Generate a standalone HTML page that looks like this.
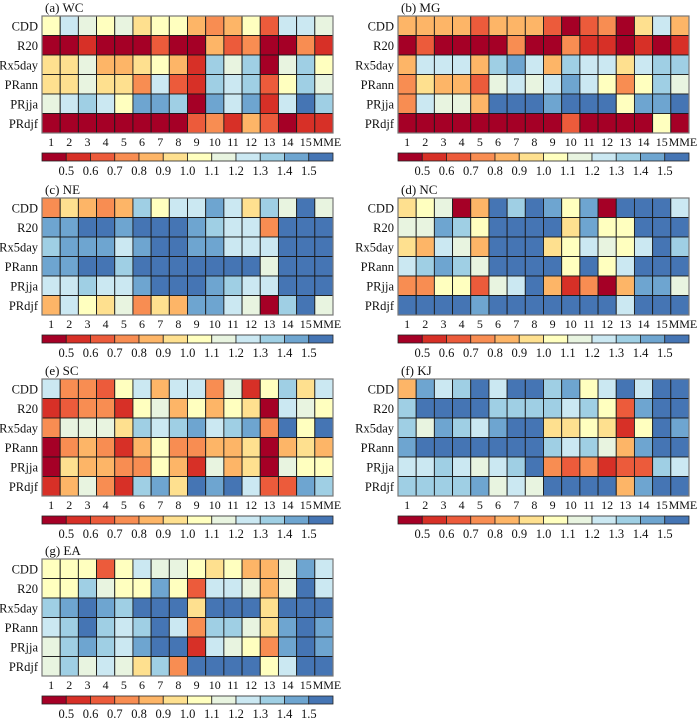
<!DOCTYPE html>
<html><head><meta charset="utf-8"><style>
html,body{margin:0;padding:0;background:#fff;}
svg{display:block;}
.t{font-family:"Liberation Serif","DejaVu Serif","Times New Roman",serif;fill:#111;}
</style></head><body>
<svg id="fig" width="700" height="720" viewBox="0 0 700 720"></svg>
<script>
const modelLabels=["1","2","3","4","5","6","7","8","9","10","11","12","13","14","15","MME"];
const indexLabels=["CDD","R20","Rx5day","PRann","PRjja","PRdjf"];
const colorbarTicks=["0.5","0.6","0.7","0.8","0.9","1.0","1.1","1.2","1.3","1.4","1.5"];
const panelTitles=["(a) WC","(b) MG","(c) NE","(d) NC","(e) SC","(f) KJ","(g) EA"];
const dataWC=[
[1.05,1.25,1.15,1.05,1.15,0.95,1.05,1.05,0.85,0.75,0.85,1.05,0.65,1.25,1.25,1.15],
[0.4,0.4,0.55,0.4,0.4,0.4,0.65,0.4,0.4,0.85,0.65,0.75,0.4,0.4,0.75,0.55],
[0.95,0.95,1.15,0.85,0.85,0.95,1.05,0.85,0.55,1.35,1.15,1.35,0.4,1.15,1.35,1.05],
[0.95,0.95,1.15,0.95,0.95,0.75,1.25,0.65,0.55,1.35,1.25,1.35,0.65,1.05,1.35,1.15],
[1.15,1.25,1.35,1.25,1.05,1.45,1.45,1.35,0.4,1.45,1.25,1.45,0.55,1.25,1.6,1.35],
[0.4,0.4,0.4,0.4,0.4,0.4,0.4,0.4,0.65,0.75,0.55,0.85,0.65,0.4,0.55,0.55]];
const dataMG=[
[0.85,0.85,0.85,0.85,0.65,0.85,0.85,0.85,0.65,0.4,0.65,0.75,0.4,0.95,1.25,0.85],
[0.4,0.65,0.4,0.4,0.4,0.4,0.75,0.4,0.4,0.75,0.55,0.55,0.4,0.55,0.4,0.55],
[0.85,1.25,1.25,1.25,0.85,1.35,1.45,1.25,0.85,1.35,1.25,1.25,0.95,1.25,1.35,1.35],
[0.75,0.95,0.85,0.85,0.65,1.15,1.25,1.15,1.25,1.45,1.25,1.05,0.75,1.05,1.35,1.15],
[0.75,1.25,1.15,1.15,0.85,1.6,1.6,1.6,1.45,1.6,1.6,1.6,1.05,1.45,1.45,1.6],
[0.4,0.4,0.4,0.4,0.4,0.4,0.4,0.4,0.4,0.65,0.4,0.4,0.4,0.4,1.05,0.4]];
const dataNE=[
[0.75,0.95,0.85,0.75,0.85,1.35,1.05,1.25,1.25,1.45,1.25,0.95,1.35,1.15,1.6,1.15],
[1.45,1.45,1.6,1.6,1.45,1.6,1.6,1.6,1.45,1.35,1.25,1.25,0.75,1.6,1.6,1.6],
[1.35,1.45,1.45,1.45,1.25,1.45,1.6,1.6,1.45,1.45,1.25,1.25,1.25,1.6,1.6,1.6],
[1.45,1.45,1.6,1.6,1.35,1.6,1.6,1.6,1.6,1.6,1.6,1.6,1.15,1.6,1.6,1.6],
[1.25,1.25,1.35,1.25,1.25,1.45,1.6,1.6,1.6,1.45,1.35,1.25,1.25,1.6,1.6,1.6],
[0.85,1.25,1.05,0.95,1.15,0.75,0.95,0.85,1.45,1.45,1.25,1.15,0.4,1.35,1.6,1.15]];
const dataNC=[
[0.95,1.05,1.15,0.4,0.85,1.6,1.35,1.6,1.45,1.05,1.45,0.4,1.6,1.6,1.6,1.25],
[1.15,1.15,1.45,1.35,1.05,1.6,1.6,1.6,1.6,0.95,1.45,1.05,1.05,1.6,1.6,1.6],
[0.95,0.85,1.25,1.15,0.85,1.6,1.6,1.6,0.95,1.05,1.25,1.15,1.05,1.25,1.6,1.35],
[1.25,1.35,1.45,1.35,1.15,1.6,1.6,1.6,1.6,1.05,1.6,1.05,1.25,1.6,1.6,1.6],
[0.75,0.75,1.05,1.05,0.65,1.15,1.25,1.6,0.85,0.55,0.75,0.4,0.85,1.45,1.45,1.15],
[1.6,1.6,1.6,1.6,1.45,1.6,1.6,1.6,1.6,1.6,1.6,1.6,1.25,1.6,1.6,1.6]];
const dataSC=[
[1.25,0.75,0.75,0.65,1.05,1.25,0.85,1.25,1.25,0.75,1.15,0.55,1.05,1.35,0.95,1.25],
[0.55,0.65,0.75,0.75,0.55,1.05,1.15,0.85,1.05,0.85,1.05,0.95,0.4,1.25,1.15,1.05],
[0.75,1.15,1.15,1.15,0.95,1.35,1.25,1.35,1.45,1.25,1.35,1.45,0.75,1.6,1.05,1.6],
[0.4,0.75,0.85,0.75,0.55,0.85,1.05,0.75,0.75,0.85,0.85,0.95,0.4,0.85,0.95,0.85],
[0.4,0.95,0.85,0.85,0.75,0.75,1.05,0.85,0.55,1.15,0.85,0.95,0.4,1.15,1.05,1.05],
[0.55,0.85,1.15,0.75,0.55,1.35,1.45,0.95,1.6,1.45,1.6,1.25,0.65,0.65,1.45,1.35]];
const dataKJ=[
[0.85,1.45,1.25,1.35,1.6,1.25,1.6,1.6,1.35,1.45,1.05,1.25,1.6,1.25,1.6,1.6],
[1.35,1.6,1.6,1.6,1.6,1.35,1.35,1.35,1.35,1.25,1.35,1.05,0.65,1.45,1.6,1.6],
[1.35,1.15,1.45,1.35,1.25,1.45,1.6,1.6,0.95,0.95,1.05,0.95,0.55,1.05,1.6,1.45],
[1.45,1.6,1.6,1.6,1.6,1.6,1.6,1.6,1.35,1.25,1.35,1.15,0.85,1.45,1.6,1.6],
[1.25,1.25,1.35,1.25,1.15,1.25,1.35,1.6,0.75,0.65,0.75,0.55,0.65,0.65,1.35,1.25],
[1.35,1.35,1.35,1.35,1.45,1.15,1.25,1.15,1.6,1.6,1.6,1.6,0.85,1.45,1.6,1.6]];
const dataEA=[
[1.05,1.05,1.05,0.65,1.05,1.25,1.15,1.15,1.05,0.95,1.05,0.85,0.85,1.15,1.45,1.25],
[1.05,1.05,1.35,1.15,1.05,1.05,1.45,1.05,0.65,1.25,1.25,1.15,0.85,1.15,1.6,1.25],
[1.35,1.45,1.6,1.45,1.35,1.6,1.6,1.6,0.95,1.6,1.6,1.6,0.95,1.6,1.6,1.6],
[1.25,1.35,1.6,1.35,1.25,1.35,1.6,1.25,0.75,1.35,1.35,1.15,0.95,1.45,1.6,1.45],
[1.15,1.35,1.45,1.35,1.25,1.45,1.6,1.6,0.55,1.25,1.15,1.05,0.75,1.45,1.6,1.45],
[1.15,1.35,1.15,1.25,1.15,0.95,1.35,0.75,1.6,1.6,1.6,1.6,1.05,1.25,1.6,1.6]];
const panelData=[dataWC,dataMG,dataNE,dataNC,dataSC,dataKJ,dataEA];

const palette=["#a50026","#d73027","#ec5b3b","#f88d52","#fdb567","#fee08f","#ffffbf","#e8f4e0","#cbe8f2","#9fcfe4","#6ea5d0","#4575b4"];
function binOf(v){if(v<0.5)return 0;if(v>=1.5)return 11;return Math.min(10,Math.floor((v-0.5)*10+1e-9)+1);}
const svg=document.getElementById('fig');
const NS="http://www.w3.org/2000/svg";
function mk(tag,attrs,parent){const e=document.createElementNS(NS,tag);for(const k in attrs)e.setAttribute(k,attrs[k]);if(tag==='text')e.setAttribute('class','t');(parent||svg).appendChild(e);return e;}
const tops=[16,16,198,198,379,379,559];
const lefts=[42,398,42,398,42,398,42];
const W=291,H=117;
panelData.forEach((data,p)=>{
  const gx=lefts[p],gy=tops[p];
  const g=mk('g',{});
  
  
  const cw=W/modelLabels.length,ch=H/indexLabels.length;
  const xs=i=>gx+i*cw, ys=j=>gy+j*ch;
  const t=mk('text',{x:gx+3,y:gy-4,'font-size':'13'},g);t.textContent=panelTitles[p];
  
  
  data.forEach((row,j)=>{
    row.forEach((v,i)=>{
      const r=mk('rect',{x:xs(i),y:ys(j),width:cw,height:ch,fill:palette[binOf(v)],stroke:'#1a1a1a','stroke-width':'0.9'},g);
      
      
    });
  });
  mk('rect',{x:gx,y:gy,width:W,height:H,fill:'none',stroke:'#777','stroke-width':'1.2'},g);
  indexLabels.forEach((l,j)=>{
    const tt=mk('text',{x:gx-4,y:ys(j)+ch/2+4.5,'text-anchor':'end','font-size':'12.5'},g);tt.textContent=l;
    
    
  });
  modelLabels.forEach((l,i)=>{
    const tt=mk('text',{x:xs(i)+cw/2+(i===15?3:0),y:gy+H+13,'text-anchor':'middle','font-size':'12'},g);tt.textContent=l;
    
    
  });
  const cy=gy+137,bw=W/palette.length;
  const cb=mk('g',{},g);
  
  
  palette.forEach((c,k)=>{mk('rect',{x:gx+k*bw,y:cy,width:bw,height:8,fill:c,stroke:'#222','stroke-width':'0.8'},cb);});
  colorbarTicks.forEach((l,k)=>{
    const tt=mk('text',{x:gx+(k+1)*bw,y:cy+22,'text-anchor':'middle','font-size':'12.5'},cb);tt.textContent=l;
    
    
  });
});
</script>
</body></html>
